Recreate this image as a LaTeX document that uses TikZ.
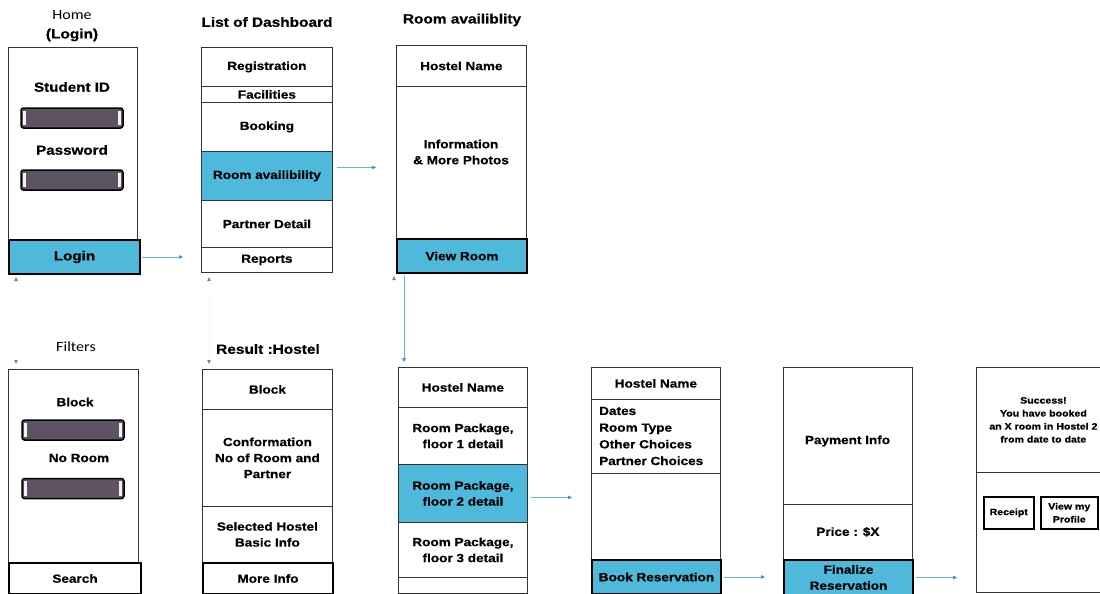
\documentclass[tikz,border=0pt]{standalone}
\usepackage{fontspec}
\setmainfont{Liberation Sans}[FakeStretch=1.15, BoldFeatures={FakeBold=0.6}]
\newfontfamily\carlitofnt{Carlito}[FakeStretch=1.15]
\usetikzlibrary{arrows.meta,calc}
\definecolor{cellblue}{HTML}{4EB9DB}
\definecolor{boxline}{HTML}{333333}
\definecolor{fieldfill}{HTML}{5E5363}
\definecolor{connblue}{HTML}{62B6E2}
\definecolor{tipblue}{HTML}{3C8ED0}
\definecolor{tippurple}{HTML}{8C70A8}
\newcommand\cellfnt{\fontsize{11.8}{16}\selectfont\bfseries}
\newcommand\bigcellfnt{\fontsize{13.2}{16}\selectfont\bfseries}
\newcommand\headfnt{\fontsize{13.4}{16}\selectfont\bfseries}
\newcommand\titlefnt{\fontsize{14}{16}\selectfont\carlitofnt}
\newcommand\tinyfnt{\fontsize{9.2}{13}\selectfont\bfseries}
\tikzset{
 cell/.style={draw=boxline, line width=0.8pt, inner sep=0pt, anchor=north west, align=center, font=\cellfnt, text=black},
 btn/.style={cell, draw=black, line width=2pt},
 bluecell/.style={cell, fill=cellblue},
 field/.style={draw=black, line width=1.5pt, rounded corners=2.5pt, fill=fieldfill, minimum width=102pt, minimum height=20pt, inner sep=0pt},
 txt/.style={inner sep=0pt, align=center, font=\cellfnt},
 conn/.style={draw=connblue, line width=0.6pt, -{Triangle[length=4pt,width=3.5pt,color=tipblue]}},
 heading/.style={inner sep=0pt, font=\headfnt},
 title/.style={inner sep=0pt, font=\titlefnt},
 smallbtn/.style={cell, draw=black, line width=1.5pt, font=\tinyfnt, minimum height=32pt},
}
\begin{document}
\begin{tikzpicture}[x=1pt,y=-1pt]
\fill[white] (0,0) rectangle (1100,594);
\useasboundingbox (0,0) rectangle (1100,594);

% titles
\node[title] (hometitle) at (72,15) {Home};
\node[heading] (logintitle) at (72,35) {(Login)};
\node[heading] (dashtitle) at (267,22) {List of Dashboard};
\node[heading] (roomtitle) at (462,20) {Room availiblity};
\node[title] (filtitle) at (76,347) {Filters};
\node[heading] (restitle) at (268,349) {Result :Hostel};

% Home (Login)
\node[cell, minimum width=129pt, minimum height=226pt] (home) at (8,47) {};
\node[txt, font=\bigcellfnt] (sid) at (72,87) {Student ID};
\node[field] (f1) at (72,118) {};
\node[txt, font=\bigcellfnt] (pwd) at (72,150) {Password};
\node[field] (f2) at (72,180) {};
\node[btn, fill=cellblue, minimum width=131pt, minimum height=34pt, font=\bigcellfnt] (login) at (8,239) {Login};

% Dashboard
\node[cell, minimum width=131pt, minimum height=39pt] (reg) at (201,47) {Registration};
\node[cell, minimum width=131pt, minimum height=16pt] (fac) at (201,86) {Facilities};
\node[cell, minimum width=131pt, minimum height=49pt] (book) at (201,102) {Booking};
\node[bluecell, minimum width=131pt, minimum height=49pt] (roomav) at (201,151) {Room availibility};
\node[cell, minimum width=131pt, minimum height=47pt] (partner) at (201,200) {Partner Detail};
\node[cell, minimum width=131pt, minimum height=25pt] (reports) at (201,247) {Reports};

% Room availability
\node[cell, minimum width=130pt, minimum height=41pt] (hn1) at (396,45) {Hostel Name};
\node[cell, minimum width=130pt, minimum height=152pt] (info) at (396,86) {};
\node[txt] (infotxt) at (461,152) {Information\\\& More Photos};
\node[btn, fill=cellblue, minimum width=130pt, minimum height=34pt] (viewroom) at (396,238) {View Room};

% Filters
\node[cell, minimum width=130pt, minimum height=224pt] (filt) at (8,369) {};
\node[txt] (blocktxt) at (75,402) {Block};
\node[field] (f3) at (73,430) {};
\node[txt] (noroom) at (79,458) {No Room};
\node[field] (f4) at (73,488.5) {};
\node[btn, fill=white, minimum width=132pt, minimum height=31pt] (search) at (8,562) {Search};

\foreach \f in {f1,f2,f3,f4}{
 \fill[white!90!gray] ($(\f.north west)+(2.5,3.5)$) rectangle ($(\f.south west)+(5.5,-3.5)$);
 \fill[white!90!gray] ($(\f.north east)+(-5.5,3.5)$) rectangle ($(\f.south east)+(-2.5,-3.5)$);
}

% Result : Hostel
\node[cell, minimum width=130pt, minimum height=40pt] (rblock) at (202,369) {Block};
\node[cell, minimum width=130pt, minimum height=97pt] (conf) at (202,409) {Conformation\\No of Room and\\Partner};
\node[cell, minimum width=130pt, minimum height=56pt] (sel) at (202,506) {Selected Hostel\\Basic Info};
\node[btn, fill=white, minimum width=130pt, minimum height=31pt] (more) at (202,562) {More Info};

% Hostel packages
\node[cell, minimum width=129pt, minimum height=40pt] (hn2) at (398,367) {Hostel Name};
\node[cell, minimum width=129pt, minimum height=57pt] (rp1) at (398,407) {Room Package,\\floor 1 detail};
\node[bluecell, minimum width=129pt, minimum height=58pt] (rp2) at (398,464) {Room Package,\\floor 2 detail};
\node[cell, minimum width=129pt, minimum height=55pt] (rp3) at (398,522) {Room Package,\\floor 3 detail};
\node[cell, minimum width=129pt, minimum height=16pt] (rp4) at (398,577) {};

% Reservation
\node[cell, minimum width=129pt, minimum height=32pt] (hn3) at (591,367) {Hostel Name};
\node[cell, minimum width=129pt, minimum height=74pt] (det) at (591,399) {};
\node[txt, align=left, anchor=west, font=\fontsize{11.8}{16.7}\selectfont\bfseries] (dettxt) at (599,436) {Dates\\Room Type\\Other Choices\\Partner Choices};
\node[cell, minimum width=129pt, minimum height=86pt] (midempty) at (591,473) {};
\node[btn, fill=cellblue, minimum width=129pt, minimum height=34pt] (bookres) at (591,559) {Book Reservation};

% Payment
\node[cell, minimum width=129pt, minimum height=137pt] (payinfo) at (783,367) {};
\node[txt] (paytxt) at (847.5,441) {Payment Info};
\node[cell, minimum width=129pt, minimum height=55pt] (price) at (783,504) {Price : \$X};
\node[btn, fill=cellblue, minimum width=129pt, minimum height=35pt] (finalize) at (783,559) {Finalize\\Reservation};

% Success
\node[cell, minimum width=134pt, minimum height=105pt, font=\tinyfnt] (succtop) at (976,367) {Success!\\You have booked\\an X room in Hostel 2\\from date to date};
\node[cell, minimum width=134pt, minimum height=120pt] (succbot) at (976,472) {};
\node[smallbtn, minimum width=50pt] (receipt) at (983,496) {Receipt};
\node[smallbtn, minimum width=57pt] (profile) at (1040,496) {View my\\Profile};

% connectors
\draw[conn, shorten <=1pt, shorten >=18pt] (login.east) -- (login.east -| reports.west);
\draw[conn, shorten <=4pt, shorten >=20pt] ([yshift=8.5pt]roomav.east) -- ([yshift=8.5pt]roomav.east -| info.west);
\draw[conn, shorten <=1pt, shorten >=5pt] ([xshift=8pt]viewroom.south west) -- ([xshift=8pt]viewroom.south west |- hn2.north);
\draw[conn, shorten <=3pt, shorten >=19pt] ([yshift=-4pt]rp2.east) -- ([yshift=-4pt]rp2.east -| hn3.west);
\draw[conn, shorten <=2pt, shorten >=18pt] (bookres.east) -- (bookres.east -| payinfo.west);
\draw[conn, shorten <=2pt, shorten >=19pt] (finalize.east) -- (finalize.east -| succtop.west);

% small stub markers
\draw[gray!20, dotted, line width=0.6pt] (209,297) -- (209,357);
\foreach \x in {16,209}{
 \fill[tippurple] (\x-1.8,281) -- (\x+1.8,281) -- (\x,277) -- cycle;
 \fill[tippurple] (\x-1.8,360) -- (\x+1.8,360) -- (\x,364) -- cycle;
}
\fill[tippurple] (392.2,280) -- (395.8,280) -- (394,276) -- cycle;
\end{tikzpicture}
\end{document}
